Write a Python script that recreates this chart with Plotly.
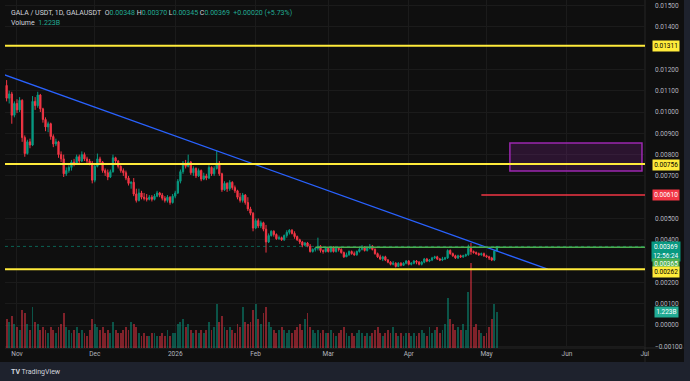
import plotly.graph_objects as go
import pandas as pd

# ---------------- data (GALA/USDT daily) ----------------
first_open = 0.01125
close_oct = [0.01065, 0.01085, 0.00985, 0.01040]
high_oct = [0.01150, 0.01100, 0.01095, 0.01050]
low_oct = [0.01050, 0.01040, 0.00945, 0.00975]

close_nov = [0.01010, 0.01055, 0.00880, 0.00805, 0.00860, 0.00845, 0.01050, 0.01030, 0.01080, 0.01015,
             0.00965, 0.00930, 0.00945, 0.00885, 0.00850, 0.00860, 0.00800, 0.00780, 0.00710, 0.00725,
             0.00740, 0.00765, 0.00760, 0.00790, 0.00770, 0.00800, 0.00780, 0.00770, 0.00760, 0.00680]
high_nov = [0.01060, 0.01070, 0.01060, 0.00890, 0.00870, 0.00875, 0.01075, 0.01070, 0.01095, 0.01085,
            0.01020, 0.00975, 0.00955, 0.00950, 0.00895, 0.00875, 0.00865, 0.00815, 0.00800, 0.00740,
            0.00750, 0.00775, 0.00780, 0.00800, 0.00800, 0.00815, 0.00810, 0.00790, 0.00780, 0.00770]
low_nov = [0.00995, 0.01000, 0.00860, 0.00790, 0.00800, 0.00830, 0.00840, 0.01010, 0.01020, 0.01000,
           0.00950, 0.00910, 0.00905, 0.00870, 0.00835, 0.00840, 0.00785, 0.00765, 0.00695, 0.00700,
           0.00715, 0.00725, 0.00745, 0.00755, 0.00760, 0.00765, 0.00770, 0.00760, 0.00750, 0.00665]

close_dec = [0.00745, 0.00780, 0.00765, 0.00725, 0.00715, 0.00695, 0.00720, 0.00785, 0.00770, 0.00745,
             0.00725, 0.00715, 0.00690, 0.00665, 0.00670, 0.00615, 0.00585, 0.00620, 0.00600, 0.00595,
             0.00590, 0.00600, 0.00590, 0.00605, 0.00620, 0.00610, 0.00595, 0.00585, 0.00600, 0.00575,
             0.00605]
high_dec = [0.00755, 0.00805, 0.00790, 0.00770, 0.00735, 0.00730, 0.00730, 0.00800, 0.00790, 0.00775,
            0.00750, 0.00735, 0.00725, 0.00700, 0.00675, 0.00690, 0.00640, 0.00640, 0.00630, 0.00620,
            0.00615, 0.00610, 0.00610, 0.00615, 0.00630, 0.00625, 0.00620, 0.00605, 0.00610, 0.00605,
            0.00615]
low_dec = [0.00670, 0.00740, 0.00755, 0.00715, 0.00700, 0.00680, 0.00690, 0.00715, 0.00755, 0.00735,
           0.00715, 0.00700, 0.00680, 0.00655, 0.00640, 0.00605, 0.00575, 0.00580, 0.00590, 0.00585,
           0.00580, 0.00585, 0.00580, 0.00585, 0.00600, 0.00600, 0.00585, 0.00575, 0.00575, 0.00565,
           0.00570]

close_jan = [0.00620, 0.00675, 0.00720, 0.00760, 0.00745, 0.00765, 0.00715, 0.00735, 0.00700, 0.00725,
             0.00685, 0.00700, 0.00690, 0.00740, 0.00710, 0.00735, 0.00760, 0.00710, 0.00635, 0.00665,
             0.00640, 0.00670, 0.00645, 0.00630, 0.00600, 0.00585, 0.00610, 0.00575, 0.00545, 0.00525,
             0.00455]
high_jan = [0.00630, 0.00685, 0.00730, 0.00770, 0.00775, 0.00800, 0.00770, 0.00745, 0.00740, 0.00735,
            0.00730, 0.00715, 0.00710, 0.00750, 0.00745, 0.00745, 0.00820, 0.00770, 0.00715, 0.00675,
            0.00670, 0.00680, 0.00675, 0.00655, 0.00635, 0.00620, 0.00620, 0.00615, 0.00600, 0.00555,
            0.00530]
low_jan = [0.00595, 0.00615, 0.00665, 0.00710, 0.00735, 0.00740, 0.00705, 0.00700, 0.00690, 0.00695,
           0.00675, 0.00680, 0.00680, 0.00685, 0.00700, 0.00700, 0.00730, 0.00700, 0.00625, 0.00630,
           0.00625, 0.00630, 0.00635, 0.00620, 0.00590, 0.00575, 0.00575, 0.00565, 0.00535, 0.00515,
           0.00440]

close_feb = [0.00490, 0.00465, 0.00480, 0.00450, 0.00390, 0.00420, 0.00440, 0.00425, 0.00405, 0.00410,
             0.00400, 0.00420, 0.00435, 0.00445, 0.00430, 0.00415, 0.00400, 0.00390, 0.00375, 0.00385,
             0.00370, 0.00345, 0.00355, 0.00360, 0.00370, 0.00350, 0.00345, 0.00360]
high_feb = [0.00500, 0.00500, 0.00490, 0.00485, 0.00470, 0.00430, 0.00445, 0.00445, 0.00430, 0.00420,
            0.00415, 0.00425, 0.00445, 0.00450, 0.00450, 0.00440, 0.00420, 0.00405, 0.00395, 0.00390,
            0.00390, 0.00380, 0.00360, 0.00365, 0.00410, 0.00375, 0.00355, 0.00365]
low_feb = [0.00450, 0.00455, 0.00455, 0.00440, 0.00340, 0.00385, 0.00415, 0.00415, 0.00400, 0.00400,
           0.00395, 0.00395, 0.00410, 0.00425, 0.00425, 0.00405, 0.00395, 0.00380, 0.00365, 0.00370,
           0.00365, 0.00340, 0.00340, 0.00345, 0.00350, 0.00340, 0.00335, 0.00340]

close_mar = [0.00345, 0.00365, 0.00345, 0.00360, 0.00355, 0.00340, 0.00320, 0.00330, 0.00345, 0.00335,
             0.00330, 0.00345, 0.00355, 0.00365, 0.00350, 0.00360, 0.00370, 0.00355, 0.00335, 0.00320,
             0.00310, 0.00320, 0.00305, 0.00295, 0.00285, 0.00290, 0.00275, 0.00290, 0.00280, 0.00290,
             0.00300]
high_mar = [0.00365, 0.00370, 0.00370, 0.00365, 0.00365, 0.00360, 0.00345, 0.00340, 0.00350, 0.00350,
            0.00345, 0.00350, 0.00365, 0.00375, 0.00370, 0.00365, 0.00380, 0.00375, 0.00360, 0.00340,
            0.00330, 0.00325, 0.00325, 0.00310, 0.00300, 0.00300, 0.00295, 0.00295, 0.00295, 0.00295,
            0.00305]
low_mar = [0.00340, 0.00340, 0.00340, 0.00340, 0.00345, 0.00335, 0.00315, 0.00320, 0.00325, 0.00330,
           0.00325, 0.00325, 0.00340, 0.00350, 0.00345, 0.00345, 0.00355, 0.00350, 0.00330, 0.00315,
           0.00305, 0.00300, 0.00300, 0.00290, 0.00280, 0.00280, 0.00270, 0.00272, 0.00275, 0.00278,
           0.00285]

close_apr = [0.00285, 0.00290, 0.00300, 0.00295, 0.00285, 0.00295, 0.00310, 0.00300, 0.00305, 0.00315,
             0.00320, 0.00310, 0.00305, 0.00310, 0.00315, 0.00350, 0.00335, 0.00325, 0.00315, 0.00325,
             0.00320, 0.00325, 0.00330, 0.00360, 0.00345, 0.00340, 0.00335, 0.00330, 0.00335, 0.00325]
high_apr = [0.00305, 0.00295, 0.00305, 0.00305, 0.00300, 0.00300, 0.00315, 0.00315, 0.00310, 0.00320,
            0.00325, 0.00325, 0.00315, 0.00320, 0.00320, 0.00355, 0.00355, 0.00340, 0.00330, 0.00330,
            0.00330, 0.00330, 0.00335, 0.00377, 0.00385, 0.00350, 0.00345, 0.00340, 0.00340, 0.00340]
low_apr = [0.00280, 0.00280, 0.00285, 0.00285, 0.00280, 0.00280, 0.00290, 0.00295, 0.00295, 0.00300,
           0.00310, 0.00305, 0.00300, 0.00300, 0.00305, 0.00310, 0.00330, 0.00320, 0.00310, 0.00310,
           0.00315, 0.00315, 0.00320, 0.00325, 0.00330, 0.00335, 0.00330, 0.00325, 0.00325, 0.00320]

close_may = [0.00320, 0.00315, 0.00305, 0.00348, 0.00369]
high_may = [0.00330, 0.00325, 0.00320, 0.00352, 0.00370]
low_may = [0.00315, 0.00305, 0.00300, 0.00300, 0.00345]

# volume in billions
vol_oct = [1.0, 0.9, 1.1, 0.8]
vol_nov = [0.7, 0.6, 1.3, 1.2, 0.8, 0.6, 1.4, 0.9, 0.8, 0.6, 0.7, 0.6, 0.5, 0.7, 0.6,
           0.5, 0.7, 0.8, 1.2, 0.7, 0.6, 0.5, 0.6, 0.7, 0.5, 0.6, 0.5, 0.4, 0.6, 1.0]
vol_dec = [0.8, 0.7, 0.6, 0.7, 0.5, 0.6, 0.5, 0.9, 0.6, 0.5, 0.5, 0.6, 0.7, 0.6, 0.9, 0.8,
           0.7, 0.5, 0.4, 0.5, 0.4, 0.4, 0.5, 0.5, 0.4, 0.4, 0.5, 0.4, 0.6, 0.4, 0.5]
vol_jan = [0.5, 0.8, 0.9, 1.0, 0.7, 0.8, 0.6, 0.5, 0.6, 0.5, 0.6, 0.5, 0.6, 0.9, 0.6, 0.7,
           1.5, 0.9, 1.1, 0.7, 0.6, 0.7, 0.6, 0.5, 0.8, 0.7, 1.4, 0.9, 0.8, 0.9, 1.3]
vol_feb = [1.5, 1.0, 0.8, 1.2, 1.4, 0.9, 0.7, 0.6, 0.5, 0.6, 0.7, 0.6, 0.5, 0.6, 0.5, 0.6,
           0.7, 0.8, 0.6, 1.0, 1.2, 0.7, 0.6, 0.5, 0.6, 0.5, 0.6, 0.5]
vol_mar = [0.5, 0.6, 0.5, 0.4, 0.5, 0.6, 0.7, 0.5, 0.4, 0.5, 0.4, 0.5, 0.6, 0.5, 0.4, 0.5,
           0.4, 0.5, 0.6, 0.7, 0.5, 0.4, 0.5, 0.6, 0.5, 0.7, 0.5, 0.4, 0.5, 0.4, 0.5]
vol_apr = [0.5, 0.4, 0.5, 0.4, 0.5, 0.6, 0.5, 0.4, 0.7, 0.5, 0.6, 0.7, 0.5, 0.6, 0.8, 1.7,
           1.0, 0.8, 0.6, 0.7, 0.6, 0.8, 0.6, 1.9, 2.9, 0.7, 0.8, 0.6, 0.5, 0.4]
vol_may = [0.5, 0.7, 1.0, 1.5, 1.223]

# drawings
level_yellow = [0.01311, 0.00756, 0.00262]
level_red = 0.00610
level_red_start = "2026-04-29"
level_green = 0.00365
level_green_start = "2026-02-24"
last_price = 0.00369
trend_dates = ["2025-10-25", "2026-05-24 14:00"]
trend_prices = [0.01184, 0.00262]
box_dates = ["2026-05-10", "2026-06-29 22:00"]
box_prices = [0.00723, 0.00854]
price_ticks = [-0.001, 0.000, 0.001, 0.002, 0.004, 0.005, 0.007, 0.008, 0.009,
               0.010, 0.011, 0.012, 0.014, 0.015]
month_ticks = ["2025-11-01", "2025-12-01", "2026-01-01", "2026-02-01", "2026-03-01",
               "2026-04-01", "2026-05-01", "2026-06-01", "2026-07-01"]
month_labels = ["Nov", "Dec", "2026", "Feb", "Mar", "Apr", "May", "Jun", "Jul"]

# ---------------- assemble ----------------
close = close_oct + close_nov + close_dec + close_jan + close_feb + close_mar + close_apr + close_may
high = high_oct + high_nov + high_dec + high_jan + high_feb + high_mar + high_apr + high_may
low = low_oct + low_nov + low_dec + low_jan + low_feb + low_mar + low_apr + low_may
volume = vol_oct + vol_nov + vol_dec + vol_jan + vol_feb + vol_mar + vol_apr + vol_may
dates = pd.date_range("2025-10-28", periods=len(close), freq="D")
open_ = [first_open] + close[:-1]
high = [max(h, o, c) for h, o, c in zip(high, open_, close)]
low = [min(l, o, c) for l, o, c in zip(low, open_, close)]

UP = "#089981"
DOWN = "#f23645"
vol_colors = ["rgba(8,153,129,0.5)" if c >= o else "rgba(242,54,69,0.5)" for o, c in zip(open_, close)]

BG = "#0f0f0f"
FRAME = "#1e222d"
TXT = "#b2b5be"
FONT = "Roboto"

# layout geometry (px)
W, H = 690, 381
ML, MR, MT, MB = 5, 45, 0, 33
PW, PH = W - ML - MR, H - MT - MB


def px_x(px):
    return (px - ML) / PW


def px_y(py):
    return (PH - (py - MT)) / PH


fig = go.Figure()

fig.add_trace(go.Bar(x=dates, y=volume, yaxis="y2", marker_color=vol_colors,
                     marker_line_width=0, width=86400000 * 0.72, hoverinfo="skip"))

fig.add_trace(go.Candlestick(
    x=dates, open=open_, high=high, low=low, close=close,
    increasing=dict(line=dict(color=UP, width=1), fillcolor=UP),
    decreasing=dict(line=dict(color=DOWN, width=1), fillcolor=DOWN),
    whiskerwidth=0, hoverinfo="skip"))

fig.add_trace(go.Scatter(x=trend_dates, y=trend_prices, mode="lines",
                         line=dict(color="#2962ff", width=1.3), hoverinfo="skip"))

shapes = []
# dark chart background incl. axes
shapes.append(dict(type="rect", xref="paper", yref="paper", x0=px_x(0), x1=px_x(684),
                   y0=px_y(362), y1=1, fillcolor=BG, line_width=0, layer="below"))
# axis separators
shapes.append(dict(type="line", xref="paper", yref="paper", x0=1, x1=1, y0=px_y(362), y1=1,
                   line=dict(color="#262626", width=1), layer="below"))
shapes.append(dict(type="line", xref="paper", yref="paper", x0=0, x1=px_x(684), y0=0, y1=0,
                   line=dict(color="#262626", width=1), layer="below"))
# purple zone
shapes.append(dict(type="rect", xref="x", yref="y", x0=box_dates[0], x1=box_dates[1],
                   y0=box_prices[0], y1=box_prices[1], fillcolor="rgba(156,39,176,0.2)",
                   line=dict(color="#9c27b0", width=1.5)))
# current price dotted line
shapes.append(dict(type="line", xref="paper", yref="y", x0=0, x1=1, y0=last_price, y1=last_price,
                   line=dict(color="rgba(8,153,129,0.6)", width=1, dash="dot")))
# green ray
shapes.append(dict(type="line", xref="x", yref="y", x0=level_green_start, x1="2026-07-05",
                   y0=level_green, y1=level_green, line=dict(color="#4caf50", width=1.5)))
# red ray
shapes.append(dict(type="line", xref="x", yref="y", x0=level_red_start, x1="2026-07-05",
                   y0=level_red, y1=level_red, line=dict(color=DOWN, width=1.5)))
# yellow levels
for lv in level_yellow:
    shapes.append(dict(type="line", xref="paper", yref="y", x0=0, x1=1, y0=lv, y1=lv,
                       line=dict(color="#ffeb3b", width=2)))

ann = []
LABEL_X = px_x(666)


def price_label(text, y, bg, fg, yshift=0, yref="y"):
    ann.append(dict(x=LABEL_X, xref="paper", y=y, yref=yref, text=text, showarrow=False,
                    xanchor="center", yanchor="middle", yshift=yshift, bgcolor=bg,
                    borderpad=1.2, font=dict(family=FONT, size=6.5, color=fg)))


price_label("0.01311", level_yellow[0], "#ffeb3b", "#000000")
price_label("0.00756", level_yellow[1], "#ffeb3b", "#000000", yshift=-1)
price_label("0.00610", level_red, DOWN, "#ffffff")
price_label("0.00369<br>12:56:24", last_price, UP, "#ffffff", yshift=-5.5)
price_label("0.00365", level_green, "#4caf50", "#ffffff", yshift=-17)
price_label("0.00262", level_yellow[2], "#ffeb3b", "#000000", yshift=-3)
price_label("1.223B", volume[-1], "#22ab94", "#ffffff", yref="y2")

teal = "#22ab94"
hdr = ("GALA / USDT, 1D, GALAUSDT&nbsp;&nbsp;O<span style='color:%s'>0.00348</span>&nbsp;"
       "H<span style='color:%s'>0.00370</span>&nbsp;L<span style='color:%s'>0.00345</span>&nbsp;"
       "C<span style='color:%s'>0.00369</span>&nbsp;&nbsp;<span style='color:%s'>+0.00020 (+5.73%%)</span>"
       % (teal, teal, teal, teal, teal))
ann.append(dict(x=px_x(9), xref="paper", y=px_y(13), yref="paper", text=hdr, showarrow=False,
                xanchor="left", yanchor="middle", font=dict(family=FONT, size=7, color="#d1d4dc")))
ann.append(dict(x=px_x(9), xref="paper", y=px_y(23.5), yref="paper",
                text="Volume&nbsp;&nbsp;<span style='color:%s'>1.223B</span>" % teal, showarrow=False,
                xanchor="left", yanchor="middle", font=dict(family=FONT, size=7, color="#d1d4dc")))
ann.append(dict(x=px_x(9), xref="paper", y=px_y(372), yref="paper",
                text="<b>TV</b> TradingView", showarrow=False,
                xanchor="left", yanchor="middle", font=dict(family=FONT, size=7, color="#d1d4dc")))

fig.update_layout(
    width=W, height=H, margin=dict(l=ML, r=MR, t=MT, b=MB),
    paper_bgcolor=FRAME, plot_bgcolor=BG, showlegend=False,
    shapes=shapes, annotations=ann, bargap=0,
    font=dict(family=FONT, size=6.5, color=TXT),
    xaxis=dict(type="date", range=["2025-10-27 09:07", "2026-07-01 02:00"],
               rangeslider=dict(visible=False), tickvals=month_ticks, ticktext=month_labels,
               showgrid=True, gridcolor="#1b1b1b", gridwidth=1, zeroline=False, showline=False,
               ticks="", tickfont=dict(family=FONT, size=6.5, color=TXT)),
    yaxis=dict(side="right", range=[-0.00108, 0.01526], tickvals=price_ticks,
               ticktext=[("%.5f" % v) if v >= 0 else ("\u22120.00100") for v in price_ticks],
               showgrid=True, gridcolor="#1b1b1b", gridwidth=1, zeroline=False, showline=False,
               ticks="", ticklabelstandoff=9, tickfont=dict(family=FONT, size=6.5, color=TXT)),
    yaxis2=dict(overlaying="y", range=[0, 11.84], visible=False),
)

fig.write_html("out.html")
